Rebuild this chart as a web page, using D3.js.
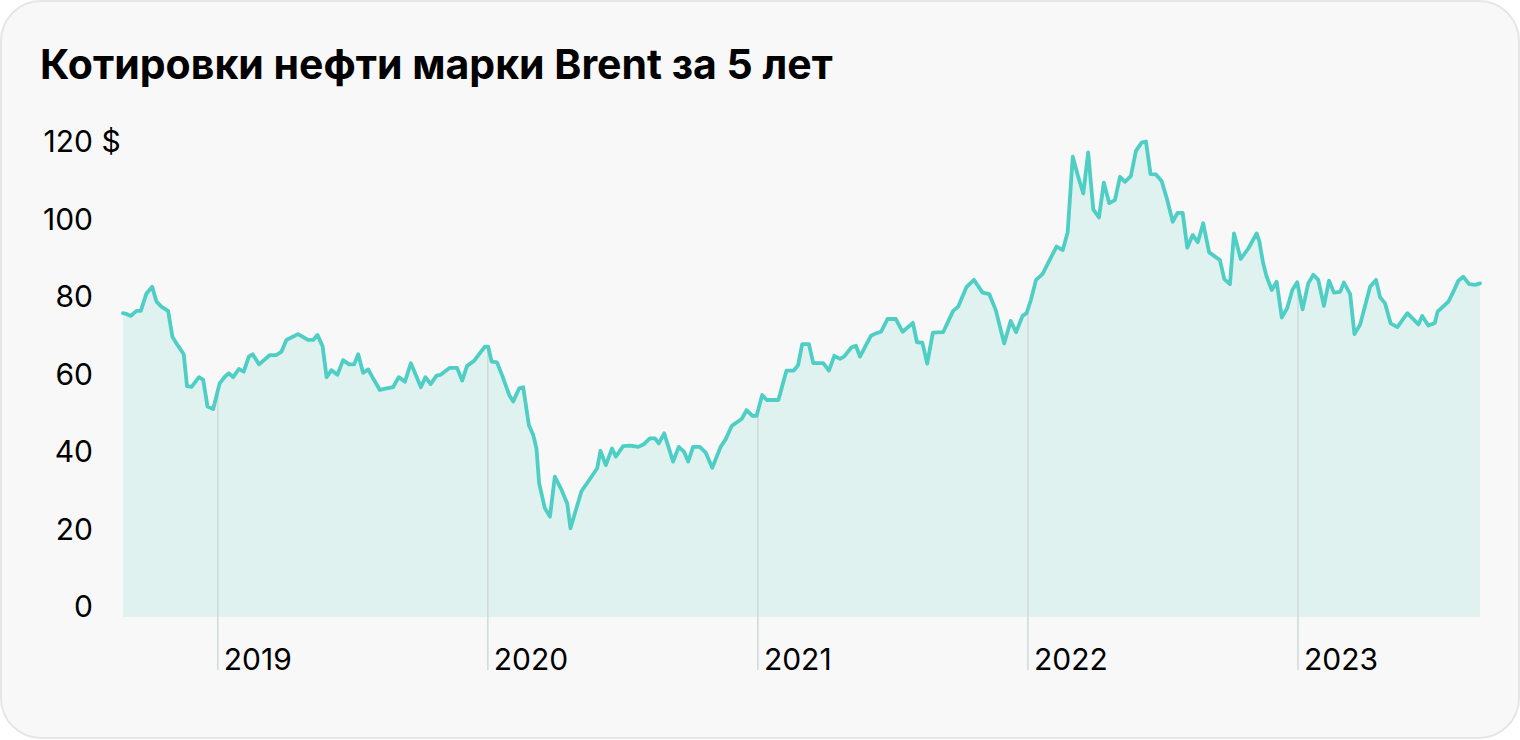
<!DOCTYPE html>
<html>
<head>
<meta charset="utf-8">
<script src="https://cdn.jsdelivr.net/npm/d3@7"></script>
<style>
  html, body { margin: 0; padding: 0; background: #ffffff; }
  svg { display: block; }
  text { font-family: Inter, "Noto Sans", sans-serif; }
</style>
</head>
<body>
<svg id="chart" width="1520" height="740"></svg>
<script>
// ---- Data ----
const title = "Котировки нефти марки Brent за 5 лет";

// time as decimal years, price in USD per barrel
const years = [
  2018.649, 2018.662, 2018.678, 2018.699, 2018.715, 2018.736, 2018.757, 2018.773, 2018.791, 2018.816,
  2018.832, 2018.847, 2018.874, 2018.886, 2018.903, 2018.930, 2018.946, 2018.962, 2018.983, 2019.007,
  2019.026, 2019.041, 2019.057, 2019.078, 2019.096, 2019.115, 2019.129, 2019.153, 2019.193, 2019.217,
  2019.236, 2019.254, 2019.297, 2019.334, 2019.353, 2019.369, 2019.388, 2019.403, 2019.421, 2019.443,
  2019.464, 2019.486, 2019.505, 2019.520, 2019.538, 2019.557, 2019.575, 2019.600, 2019.625, 2019.649,
  2019.670, 2019.693, 2019.715, 2019.736, 2019.752, 2019.769, 2019.788, 2019.810, 2019.825, 2019.859,
  2019.886, 2019.905, 2019.923, 2019.949, 2019.989, 2020.001, 2020.014, 2020.034, 2020.057, 2020.079,
  2020.094, 2020.116, 2020.131, 2020.152, 2020.168, 2020.180, 2020.190, 2020.211, 2020.230, 2020.248,
  2020.273, 2020.294, 2020.306, 2020.326, 2020.347, 2020.371, 2020.405, 2020.417, 2020.437, 2020.460,
  2020.474, 2020.501, 2020.526, 2020.557, 2020.578, 2020.600, 2020.619, 2020.633, 2020.653, 2020.686,
  2020.707, 2020.726, 2020.742, 2020.760, 2020.785, 2020.807, 2020.831, 2020.862, 2020.881, 2020.903,
  2020.919, 2020.940, 2020.958, 2020.980, 2020.995, 2021.016, 2021.033, 2021.076, 2021.106, 2021.133,
  2021.149, 2021.164, 2021.189, 2021.205, 2021.242, 2021.263, 2021.283, 2021.304, 2021.319, 2021.347,
  2021.363, 2021.378, 2021.419, 2021.437, 2021.456, 2021.480, 2021.511, 2021.536, 2021.574, 2021.589,
  2021.609, 2021.627, 2021.648, 2021.686, 2021.723, 2021.742, 2021.773, 2021.800, 2021.832, 2021.857,
  2021.881, 2021.912, 2021.936, 2021.956, 2021.980, 2021.995, 2022.011, 2022.030, 2022.054, 2022.075,
  2022.106, 2022.129, 2022.147, 2022.166, 2022.184, 2022.205, 2022.223, 2022.242, 2022.263, 2022.281,
  2022.301, 2022.322, 2022.341, 2022.359, 2022.381, 2022.400, 2022.421, 2022.437, 2022.454, 2022.474,
  2022.495, 2022.516, 2022.536, 2022.554, 2022.573, 2022.590, 2022.610, 2022.629, 2022.649, 2022.671,
  2022.711, 2022.727, 2022.748, 2022.763, 2022.788, 2022.816, 2022.847, 2022.857, 2022.871, 2022.884,
  2022.903, 2022.921, 2022.940, 2022.960, 2022.979, 2022.997, 2023.017, 2023.038, 2023.057, 2023.075,
  2023.096, 2023.115, 2023.133, 2023.156, 2023.170, 2023.193, 2023.209, 2023.230, 2023.267, 2023.289,
  2023.304, 2023.322, 2023.343, 2023.368, 2023.405, 2023.446, 2023.460, 2023.483, 2023.507, 2023.517,
  2023.557, 2023.575, 2023.594, 2023.612, 2023.634, 2023.656, 2023.674
];

const prices = [
  78.4, 78.2, 77.7, 79.0, 79.0, 83.5, 85.2, 81.4, 80.1, 79.0,
  72.3, 70.6, 67.8, 59.6, 59.4, 61.9, 61.2, 54.3, 53.7, 60.3,
  62.0, 62.9, 61.9, 64.0, 63.3, 67.2, 67.8, 65.2, 67.6, 67.6,
  68.5, 71.5, 73.0, 71.5, 71.5, 72.8, 69.9, 61.9, 63.7, 62.5,
  66.3, 65.2, 65.2, 67.8, 63.0, 63.9, 61.6, 58.6, 59.0, 59.3,
  61.9, 60.7, 65.5, 62.0, 59.3, 61.9, 60.1, 62.3, 62.5, 64.3,
  64.3, 61.0, 64.8, 66.1, 69.8, 69.8, 65.9, 65.7, 61.6, 57.3,
  55.6, 59.0, 59.3, 49.5, 47.0, 43.5, 34.5, 28.1, 25.9, 36.2,
  32.8, 29.3, 22.9, 27.6, 32.5, 34.9, 38.4, 42.9, 39.2, 43.5,
  41.4, 44.1, 44.2, 43.9, 44.6, 46.1, 46.1, 44.8, 47.4, 40.1,
  43.9, 42.7, 40.1, 43.9, 43.9, 42.4, 38.5, 43.9, 45.9, 49.3,
  50.1, 51.1, 53.4, 51.9, 51.9, 57.3, 56.0, 56.0, 63.6, 63.6,
  65.0, 70.4, 70.4, 65.5, 65.5, 63.6, 67.4, 66.6, 67.2, 69.6,
  70.0, 67.2, 72.6, 73.2, 73.6, 76.9, 76.9, 73.6, 75.9, 70.9,
  70.8, 65.4, 73.4, 73.5, 79.0, 80.1, 85.2, 87.0, 83.7, 83.3,
  79.2, 70.6, 76.4, 73.5, 77.7, 78.4, 81.8, 87.0, 88.5, 91.4,
  95.6, 94.7, 99.2, 118.8, 114.1, 109.3, 119.9, 105.2, 103.1, 112.1,
  106.8, 107.6, 113.6, 112.3, 113.8, 120.3, 122.4, 122.7, 114.3, 114.2,
  112.5, 107.6, 102.0, 104.3, 104.3, 95.3, 98.6, 96.7, 101.6, 94.1,
  92.1, 87.2, 85.9, 99.0, 92.4, 95.1, 99.0, 96.9, 91.3, 87.8,
  84.4, 86.5, 77.3, 79.7, 84.4, 86.4, 79.4, 86.1, 88.3, 87.0,
  80.3, 86.8, 83.7, 83.9, 86.3, 83.4, 73.0, 75.4, 85.2, 87.0,
  82.5, 81.0, 75.8, 74.8, 78.4, 75.5, 77.7, 75.2, 75.9, 78.8,
  81.4, 83.9, 86.8, 87.8, 85.9, 85.7, 86.1
];

const yTicks = [0, 20, 40, 60, 80, 100, 120];
const yUnit = "$";
const yearTicks = [2019, 2020, 2021, 2022, 2023];

// ---- Drawing ----
const data = years.map((t, i) => ({ t, v: prices[i] }));
const svg = d3.select("#chart");

svg.append("rect")
  .attr("x", 1).attr("y", 1).attr("width", 1518).attr("height", 737)
  .attr("rx", 40).attr("ry", 40)
  .attr("fill", "#f8f8f8").attr("stroke", "#e6e6e6").attr("stroke-width", 2);

svg.append("text")
  .attr("x", 40).attr("y", 79)
  .attr("font-size", 41).attr("font-weight", 700).attr("fill", "#000")
  .text(title);

const x = d3.scaleLinear().domain(d3.extent(years)).range([123, 1480]);
const y = d3.scaleLinear().domain([0, 120]).range([617, 152]);

// y labels
const yl = svg.append("g");
yl.selectAll("text.num").data(yTicks).join("text")
  .attr("class", "num")
  .attr("x", 93).attr("y", d => y(d))
  .attr("text-anchor", "end")
  .attr("font-size", 30).attr("fill", "#000")
  .text(d => d);
yl.append("text")
  .attr("x", 93).attr("y", y(d3.max(yTicks)))
  .attr("font-size", 30).attr("fill", "#000")
  .text("\u00a0" + yUnit);

// area fill
const area = d3.area().x(d => x(d.t)).y0(y(0)).y1(d => y(d.v));
svg.append("path").datum(data)
  .attr("d", area).attr("fill", "#e0f2f0");

// clip for year lines (below the price line)
const clipArea = d3.area().x(d => x(d.t)).y0(700).y1(d => y(d.v));
svg.append("clipPath").attr("id", "below")
  .append("path").datum(data).attr("d", clipArea);

svg.append("g").attr("clip-path", "url(#below)")
  .selectAll("line").data(yearTicks).join("line")
  .attr("x1", d => x(d)).attr("x2", d => x(d))
  .attr("y1", 670).attr("y2", 120)
  .attr("stroke", "#cfd9d8").attr("stroke-width", 1.5);

svg.append("g").selectAll("text").data(yearTicks).join("text")
  .attr("x", d => x(d) + 6).attr("y", 670)
  .attr("font-size", 30).attr("fill", "#000")
  .text(d => d);

// price line
const line = d3.line().x(d => x(d.t)).y(d => y(d.v));
svg.append("path").datum(data)
  .attr("d", line).attr("fill", "none")
  .attr("stroke", "#4ecec4").attr("stroke-width", 3.8)
  .attr("stroke-linejoin", "round").attr("stroke-linecap", "round");
</script>
</body>
</html>
